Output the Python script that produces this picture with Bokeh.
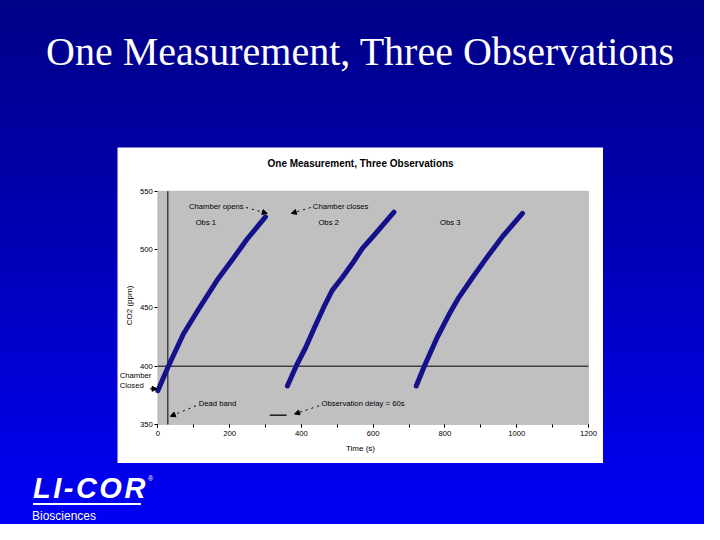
from bokeh.plotting import figure
from bokeh.models import (Range1d, FixedTicker, Label, Arrow, NormalHead, Div,
                          LinearAxis, BoxAnnotation)
from bokeh.layouts import column, row
from bokeh.embed import file_html
from bokeh.resources import INLINE

# ---------------- data ----------------
slide_title = "One Measurement, Three Observations"
chart_title = "One Measurement, Three Observations"
x_label = "Time (s)"
y_label = "CO2 (ppm)"

obs1_time = [0, 31, 72, 114, 166, 207, 249, 300]
obs1_co2 = [379, 401, 428, 449, 474, 491, 509, 528]
obs2_time = [361, 387, 412, 435, 463, 486, 514, 542, 570, 602, 658]
obs2_co2 = [383, 401, 416, 432, 451, 465, 476, 488, 501, 512, 532]
obs3_time = [720, 744, 779, 811, 839, 877, 914, 960, 1016]
obs3_co2 = [383, 401, 425, 444, 459, 476, 492, 511, 531]

x_ticks = [0, 200, 400, 600, 800, 1000, 1200]
x_minor = [0, 100, 200, 300, 400, 500, 600, 700, 800, 900, 1000, 1100, 1200]
y_ticks = [350, 400, 450, 500, 550]

dead_band_time = 28
ambient_co2 = 400
delay_time = [312, 359]
delay_co2 = [358, 358]

# ---------------- chart ----------------
FONT = "Liberation Sans"
CURVE = "#14128A"

FIG_W, FIG_H = 486, 316
PLOT_LEFT_PX = 40.3      # white margin left of the grey plot area
PLOT_RIGHT_PX = 15.0     # white margin right of the grey plot area
PLOT_TOP_PX = 43.7       # white margin above the grey plot area
PLOT_BOTTOM_PX = 39.0    # white margin below the grey plot area
x_lo, x_hi = x_ticks[0], x_ticks[-1]
y_lo, y_hi = y_ticks[0], y_ticks[-1]
x_scale = (FIG_W - PLOT_LEFT_PX - PLOT_RIGHT_PX) / (x_hi - x_lo)
y_scale = (FIG_H - PLOT_TOP_PX - PLOT_BOTTOM_PX) / (y_hi - y_lo)

p = figure(width=FIG_W, height=FIG_H,
           x_range=Range1d(x_lo - PLOT_LEFT_PX / x_scale, x_hi + PLOT_RIGHT_PX / x_scale),
           y_range=Range1d(y_lo - PLOT_BOTTOM_PX / y_scale, y_hi + PLOT_TOP_PX / y_scale),
           x_axis_location=None, y_axis_location=None,
           output_backend="svg", toolbar_location=None,
           min_border_left=0, min_border_right=0, min_border_top=0, min_border_bottom=0,
           background_fill_color="white", border_fill_color="white",
           outline_line_color=None)

p.xgrid.grid_line_color = None
p.ygrid.grid_line_color = None

# grey plot area
p.add_layout(BoxAnnotation(left=x_lo, right=x_hi, bottom=y_lo, top=y_hi,
                           fill_color="#C0C0C0", fill_alpha=1.0,
                           line_color="#808080", line_width=1, level="underlay"))

xax = LinearAxis(fixed_location=y_lo)
yax = LinearAxis(fixed_location=x_lo)
p.add_layout(xax, "below")
p.add_layout(yax, "left")

for ax in (xax, yax):
    ax.axis_line_color = None
    ax.major_tick_line_color = "black"
    ax.minor_tick_line_color = None
    ax.major_tick_in = 0
    ax.major_tick_out = 3
    ax.major_label_text_font = FONT
    ax.major_label_text_font_size = "7.7px"
    ax.major_label_text_color = "black"
    ax.axis_label_text_font = FONT
    ax.axis_label_text_font_size = "8px"
    ax.axis_label_text_font_style = "normal"
    ax.axis_label_text_color = "black"

xax.ticker = FixedTicker(ticks=x_ticks, minor_ticks=x_minor)
xax.minor_tick_line_color = "black"
xax.minor_tick_in = 0
xax.minor_tick_out = 3
xax.major_label_standoff = 3
xax.axis_label = x_label
xax.axis_label_standoff = 5

yax.ticker = FixedTicker(ticks=y_ticks)
yax.major_label_standoff = 2
yax.axis_label = y_label
yax.axis_label_standoff = 3

# reference lines
p.line([x_lo, x_hi], [ambient_co2, ambient_co2], line_color="black", line_width=1)
p.line([dead_band_time, dead_band_time], [y_lo, y_hi], line_color="black", line_width=1)

for t, c in ((obs1_time, obs1_co2), (obs2_time, obs2_co2), (obs3_time, obs3_co2)):
    p.line(t, c, line_color=CURVE, line_width=5, line_join="round", line_cap="round")

p.line(delay_time, delay_co2, line_color="black", line_width=1.3)


def lab(x, y, text, align="left", size="7.7px", style="normal"):
    p.add_layout(Label(x=x, y=y, text=text, text_font=FONT, text_font_size=size,
                       text_font_style=style, text_align=align, text_baseline="middle",
                       text_color="black"))


def arr(x0, y0, x1, y1, dash="dotted"):
    p.add_layout(Arrow(end=NormalHead(size=5, fill_color="black", line_color="black"),
                       x_start=x0, y_start=y0, x_end=x1, y_end=y1,
                       line_color="black", line_width=1, line_dash=dash))


lab(565, 574, chart_title, align="center", size="10px", style="bold")
lab(239, 537, "Chamber opens", align="right")
arr(246, 536, 305, 531)
lab(432, 537, "Chamber closes")
arr(426, 536, 372, 531)
lab(134, 523, "Obs 1", align="center")
lab(476, 523, "Obs 2", align="center")
lab(815, 523, "Obs 3", align="center")
lab(114, 368, "Dead band")
arr(106, 366, 35, 357)
lab(456, 368, "Observation delay = 60s")
arr(449, 366, 381, 359)
lab(-106, 392, "Chamber")
lab(-106, 383.5, "Closed")
arr(-22, 380.6, -2, 380.6, dash="solid")

# ---------------- slide ----------------
title_div = Div(width=704, height=147, margin=0, text=(
    '<div style="box-sizing:border-box;width:704px;padding-left:16px;padding-top:29px;'
    'text-align:center;color:white;'
    "font-family:'Liberation Serif','Times New Roman',serif;font-size:40px;line-height:45px;"
    'white-space:nowrap;">' + slide_title + '</div>'))

left_div = Div(width=117, height=FIG_H, margin=0, text="")
right_div = Div(width=101, height=FIG_H, margin=0, text="")

logo_div = Div(width=704, height=61, margin=0, text=(
    '<div style="position:relative;width:704px;height:61px;color:white;">'
    "<div style=\"position:absolute;left:33px;top:11px;font-family:'Liberation Sans',Arial,sans-serif;"
    'font-size:29px;line-height:28px;font-weight:bold;font-style:italic;letter-spacing:2.5px;">LI-COR</div>'
    "<div style=\"position:absolute;left:148px;top:12px;font-family:'Liberation Sans',Arial,sans-serif;"
    'font-size:7px;line-height:8px;">&reg;</div>'
    '<div style="position:absolute;left:33px;top:40px;width:108px;height:2px;background:white;"></div>'
    "<div style=\"position:absolute;left:32px;top:46px;font-family:'Liberation Sans',Arial,sans-serif;"
    'font-size:12px;line-height:14px;">Biosciences</div>'
    '</div>'))

layout = column(title_div, row(left_div, p, right_div, spacing=0), logo_div, spacing=0,
                styles={"background": "linear-gradient(to bottom, #000086 0%, #0000B4 45%, #0000F6 100%)"})

open("out.html", "w").write(file_html(layout, INLINE))
